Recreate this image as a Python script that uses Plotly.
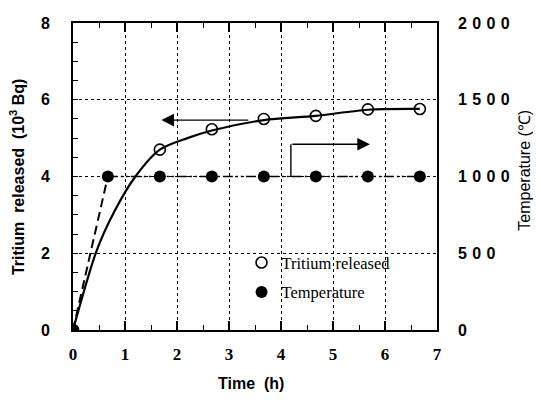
import plotly.graph_objects as go

# ---- data ----
tritium_time = [0, 1.67, 2.67, 3.67, 4.67, 5.67, 6.67]
tritium_released = [0, 4.70, 5.23, 5.50, 5.58, 5.75, 5.76]

curve_time = [0, 0.45, 0.8, 1.2, 1.67, 2.2, 2.67, 3.67, 4.67, 5.67, 6.67]
curve_value = [0, 2.05, 3.1, 4.0, 4.7, 5.0, 5.2, 5.47, 5.58, 5.74, 5.76]

temp_time = [0, 0.67, 1.67, 2.67, 3.67, 4.67, 5.67, 6.67]
temperature = [0, 1000, 1000, 1000, 1000, 1000, 1000, 1000]

y2_ticks = [0, 500, 1000, 1500, 2000]
y2_ticktext = ["0", "5\u20040\u20040", "1\u20040\u20040\u20040", "1\u20045\u20040\u20040", "2\u20040\u20040\u20040"]

fig = go.Figure()

# fitted tritium curve
fig.add_trace(go.Scatter(x=curve_time, y=curve_value, mode="lines",
                         line=dict(color="black", width=2.2, shape="spline", smoothing=0.8),
                         showlegend=False, hoverinfo="skip"))
# temperature ramp (dashed)
fig.add_trace(go.Scatter(x=temp_time[:2], y=temperature[:2], mode="lines", yaxis="y2",
                         line=dict(color="black", width=2, dash="9px,5px"),
                         showlegend=False))
# temperature hold (dash-dot-dot)
fig.add_trace(go.Scatter(x=temp_time[1:], y=temperature[1:], mode="lines", yaxis="y2",
                         line=dict(color="black", width=1.5, dash="10px,3px,2px,3px,2px,3px"),
                         showlegend=False))
# tritium markers
fig.add_trace(go.Scatter(x=tritium_time, y=tritium_released, mode="markers",
                         name="Tritium released", legendgroup="a",
                         marker=dict(symbol="circle-open", size=11, color="black",
                                     line=dict(width=1.6, color="black"))))
# temperature markers
fig.add_trace(go.Scatter(x=temp_time, y=temperature, mode="markers", yaxis="y2",
                         name="Temperature", legendgroup="b",
                         marker=dict(symbol="circle", size=12, color="black")))

# arrows
fig.add_annotation(x=1.70, y=5.47, ax=3.4, ay=5.47, xref="x", yref="y", axref="x", ayref="y",
                   showarrow=True, arrowhead=2, arrowsize=1.8, arrowwidth=1.4, arrowcolor="black", text="")
fig.add_shape(type="line", x0=4.19, x1=4.19, y0=1000, y1=1210, xref="x", yref="y2",
              line=dict(color="black", width=1.4))
fig.add_annotation(x=5.71, y=1210, ax=4.19, ay=1210, xref="x", yref="y2", axref="x", ayref="y2",
                   showarrow=True, arrowhead=2, arrowsize=1.8, arrowwidth=1.4, arrowcolor="black", text="")

# axis titles
fig.add_annotation(text="Time  (h)", x=0.49, y=-0.175, xref="paper", yref="paper",
                   showarrow=False, yanchor="middle",
                   font=dict(family="Liberation Sans", size=16, color="black", weight="bold"))
fig.add_annotation(text="Tritium  released  (10<sup>3</sup> Bq)", x=-0.155, y=0.5, xref="paper", yref="paper",
                   showarrow=False, textangle=-90, xanchor="center",
                   font=dict(family="Liberation Sans", size=16, color="black", weight="bold"))
fig.add_annotation(text="Temperature (\u2103)", x=1.24, y=0.52, xref="paper", yref="paper",
                   showarrow=False, textangle=-90, xanchor="center",
                   font=dict(family="Liberation Sans", size=16, color="black"))

# page body has an 8px margin: shrink the figure so the plot lands where the reference has it
fig.update_layout(
    width=533, height=395,
    margin=dict(l=65, r=104, t=7, b=73),
    paper_bgcolor="white", plot_bgcolor="white",
    xaxis=dict(range=[0, 7], dtick=1, showline=True, linecolor="black", linewidth=2,
               mirror="ticks", ticks="inside", ticklen=9, tickwidth=1.5, tickcolor="black",
               minor=dict(dtick=0.5, ticks="inside", ticklen=5, tickwidth=1.2, tickcolor="black", showgrid=False),
               showgrid=True, gridcolor="black", gridwidth=1, griddash="dot",
               zeroline=False, ticklabelstandoff=8,
               tickfont=dict(family="Liberation Serif", size=17, color="black", weight="bold")),
    yaxis=dict(range=[0, 8], dtick=2, showline=True, linecolor="black", linewidth=2,
               mirror=True, ticks="inside", ticklen=5, tickwidth=1.2, tickcolor="black",
               minor=dict(dtick=0.5, ticks="inside", ticklen=5, tickwidth=1.2, tickcolor="black", showgrid=False),
               showgrid=True, gridcolor="black", gridwidth=1, griddash="dot",
               zeroline=False, ticklabelstandoff=18,
               tickfont=dict(family="Liberation Sans", size=16, color="black", weight="bold")),
    yaxis2=dict(range=[0, 2000], overlaying="y", side="right", tickvals=y2_ticks, ticktext=y2_ticktext,
                showline=False, ticks="", showgrid=False, zeroline=False, ticklabelstandoff=20,
                tickfont=dict(family="Liberation Sans", size=16, color="black", weight="bold")),
    legend=dict(x=0.463, y=0.276, xanchor="left", yanchor="top", bgcolor="rgba(255,255,255,0)",
                font=dict(family="Liberation Serif", size=16.5, color="black"),
                tracegroupgap=5, itemwidth=30),
    showlegend=True,
)

fig.write_html("out.html")
